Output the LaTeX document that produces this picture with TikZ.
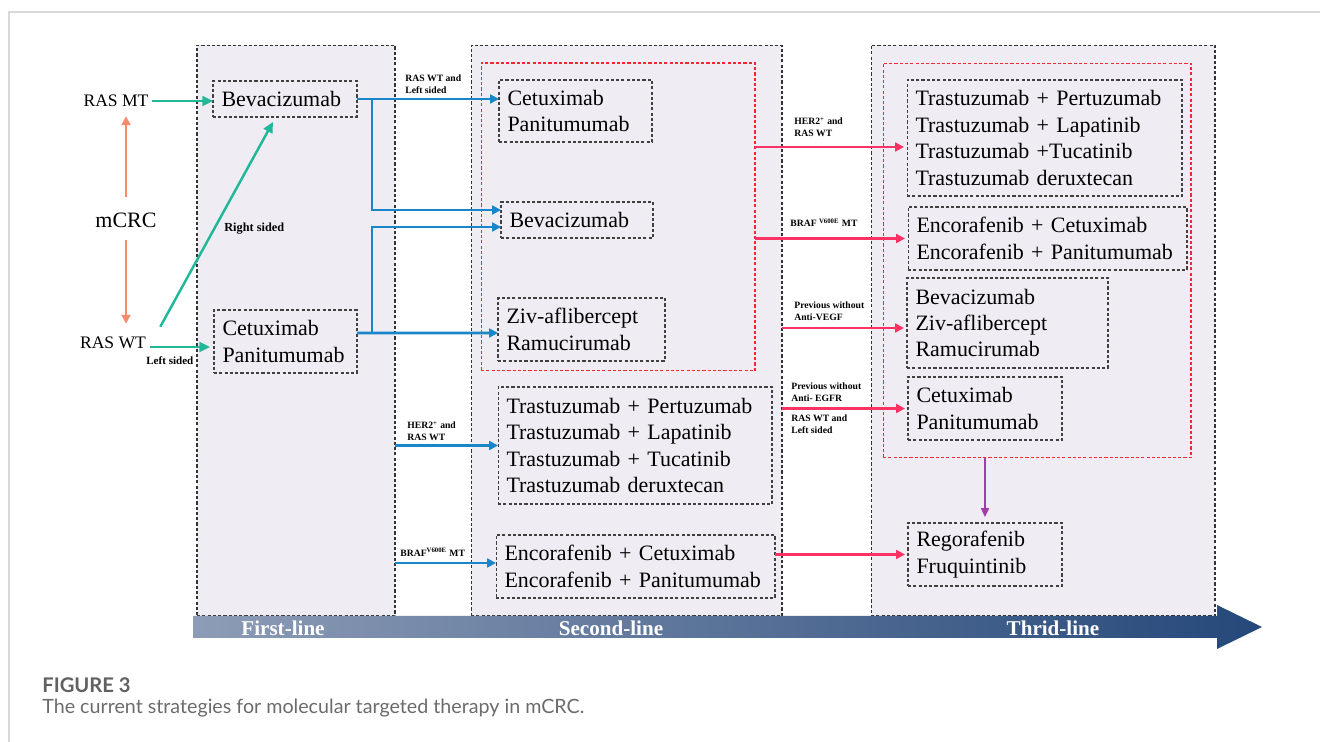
\documentclass[tikz,border=0pt]{standalone}
\usepackage{fontspec}
\setmainfont{Liberation Serif}
\newfontfamily\captionfont{Lato}
\usetikzlibrary{arrows.meta,calc}

\definecolor{crcLavender}{RGB}{239,236,244}
\definecolor{crcRedBox}{RGB}{240,40,50}
\definecolor{crcTeal}{RGB}{32,184,152}
\definecolor{crcBlue}{RGB}{24,134,200}
\definecolor{crcPink}{RGB}{252,50,100}
\definecolor{crcOrange}{RGB}{245,139,106}
\definecolor{crcPurple}{RGB}{160,62,165}
\definecolor{crcBandL}{RGB}{141,156,182}
\definecolor{crcBandM}{RGB}{112,134,168}
\definecolor{crcBandR}{RGB}{37,72,122}
\definecolor{crcFrame}{RGB}{216,216,216}

\begin{document}
\begin{tikzpicture}[
    x=0.02cm, y=-0.02cm,
    crcPanel/.style={draw=black!80, dash pattern=on 1.8pt off 1.2pt, line width=0.6pt, fill=crcLavender, inner sep=0pt, outer sep=0pt},
    crcGroup/.style={draw=crcRedBox, dash pattern=on 1.8pt off 1.2pt, line width=0.6pt, inner sep=0pt, outer sep=0pt},
    crcDrug/.style={draw=black!75, dash pattern=on 1.8pt off 1.2pt, line width=0.6pt, fill=crcLavender, align=left, inner xsep=0.17cm, inner ysep=0pt, outer sep=0pt, font=\fontsize{12.5}{15}\selectfont},
    crcTag/.style={anchor=west, align=left, inner sep=0pt, font=\bfseries\fontsize{5.5}{6.8}\selectfont},
    crcBandText/.style={text=white, inner sep=0pt, font=\bfseries\fontsize{12}{14}\selectfont},
    crcGreen/.style={draw=crcTeal, line width=1.4pt, -{Triangle[length=6pt,width=5.5pt]}},
    crcBlueArrow/.style={draw=crcBlue, line width=1.5pt, -{Triangle[length=5pt,width=5pt]}},
    crcPinkArrow/.style={draw=crcPink, line width=1.6pt, -{Triangle[length=5pt,width=5pt]}},
    crcOrangeArrow/.style={draw=crcOrange, line width=1.4pt, -{Triangle[length=5pt,width=5pt]}}
]
\useasboundingbox (0,0) rectangle (1320,742);
\draw[crcFrame, line width=0.8pt] (1320,12) -- (9,12) -- (9,742);

% the three lines of therapy
\node[crcPanel, minimum width=3.96cm, minimum height=11.42cm] (pan1) at (296,330.5) {};
\node[crcPanel, minimum width=6.22cm, minimum height=11.42cm] (pan2) at (626.5,330.5) {};
\node[crcPanel, minimum width=6.88cm, minimum height=11.42cm] (pan3) at (1043,330.5) {};
\node[crcGroup, minimum width=5.48cm, minimum height=6.16cm] (grp2) at (618,217) {};
\node[crcGroup, minimum width=6.16cm, minimum height=7.90cm] (grp3) at (1037,260.5) {};

% mCRC and RAS status
\node[inner sep=0pt, font=\fontsize{10}{12}\selectfont] (rasMT) at (116,101) {RAS MT};
\node[inner sep=0pt, font=\fontsize{12.5}{15}\selectfont] (mcrc) at (126,220) {mCRC};
\node[inner sep=0pt, font=\fontsize{10}{12}\selectfont] (rasWT) at (113,343) {RAS WT};
\draw[crcOrangeArrow, shorten <=0.31cm, shorten >=0.18cm] (mcrc.north) -- (mcrc.north |- rasMT.south);
\draw[crcOrangeArrow, shorten <=0.25cm, shorten >=0.26cm] (mcrc.south) -- (mcrc.south |- rasWT.north);

% first-line
\node[crcDrug, text width=2.54cm, minimum height=0.72cm] (b1Bev) at (285,99) {Bevacizumab};
\node[crcDrug, text width=2.52cm, minimum height=1.26cm] (b1Cet) at (285.5,341.5) {Cetuximab\\Panitumumab};

\draw[crcGreen, shorten <=0.06cm] (rasMT.east) -- (b1Bev.west |- rasMT.east);
\draw[crcGreen] ($(rasWT.east)+(4,4)$) -- ($(b1Cet.west |- rasWT.east)+(-4,4)$);
\draw[crcGreen] ($(rasWT.north east)+(14,-10)$) -- ($(b1Bev.south)+(-12,5)$);
\node[crcTag, font=\bfseries\fontsize{7}{8}\selectfont] (tagRight) at (224,229) {Right sided};
\node[crcTag, font=\bfseries\fontsize{6.3}{7}\selectfont] (tagLeft) at (146,361) {Left sided};

% second-line
\node[crcDrug, text width=2.72cm, minimum height=1.24cm] (b2Cet) at (575.5,111) {Cetuximab\\Panitumumab};
\node[crcDrug, text width=2.70cm, minimum height=0.72cm] (b2Bev) at (577,220) {Bevacizumab};
\node[crcDrug, text width=3.00cm, minimum height=1.26cm] (b2Ziv) at (581.5,329.5) {Ziv-aflibercept\\Ramucirumab};
\node[crcDrug, text width=5.14cm, minimum height=2.34cm] (b2Tras) at (635,445.5) {Trastuzumab + Pertuzumab\\Trastuzumab + Lapatinib\\Trastuzumab + Tucatinib\\Trastuzumab deruxtecan};
\node[crcDrug, text width=5.24cm, minimum height=1.26cm] (b2Enc) at (635.5,566.5) {Encorafenib + Cetuximab\\Encorafenib + Panitumumab};

\draw[crcBlueArrow] (b1Bev.east) -- (b2Cet.west |- b1Bev.east);
\draw[crcBlueArrow] ($(b1Bev.east)+(15,0)$) |- ($(b2Bev.west)+(0,-10)$);
\draw[crcBlueArrow] ($(b1Cet.east)+(15,-8.5)$) |- ($(b2Bev.west)+(0,7)$);
\draw[crcBlueArrow] ($(b1Cet.east)+(0,-8.5)$) -- ($(b2Ziv.west)+(0,3.5)$);
\draw[crcBlueArrow] (pan1.east |- b2Tras.west) -- (b2Tras.west);
\draw[crcBlueArrow] ($(pan1.east |- b2Enc.west)+(0,-3.5)$) -- ($(b2Enc.west)+(0,-3.5)$);
\node[crcTag] (tagRasLeft1) at (405,84) {RAS WT and\\Left sided};
\node[crcTag] (tagHer2a) at (407,431) {HER2\textsuperscript{+} and\\RAS WT};
\node[crcTag] (tagBraf2) at (400,552) {BRAF\textsuperscript{V600E} MT};

% third-line
\node[crcDrug, text width=5.16cm, minimum height=2.32cm] (b3Tras) at (1044.5,138) {Trastuzumab + Pertuzumab\\Trastuzumab + Lapatinib\\Trastuzumab +Tucatinib\\Trastuzumab deruxtecan};
\node[crcDrug, text width=5.24cm, minimum height=1.26cm] (b3Enc) at (1047.5,238.5) {Encorafenib + Cetuximab\\Encorafenib + Panitumumab};
\node[crcDrug, text width=3.68cm, minimum height=1.80cm] (b3Bev) at (1007.5,323) {Bevacizumab\\Ziv-aflibercept\\Ramucirumab};
\node[crcDrug, text width=2.74cm, minimum height=1.26cm] (b3Cet) at (985,408.5) {Cetuximab\\Panitumumab};
\node[crcDrug, text width=2.74cm, minimum height=1.26cm] (b3Reg) at (985,554.5) {Regorafenib\\Fruquintinib};

\draw[crcPinkArrow] ($(grp2.east |- b3Tras.west)+(0,9)$) -- ($(b3Tras.west)+(-3,9)$);
\draw[crcPinkArrow] (grp2.east |- b3Enc.west) -- ($(b3Enc.west)+(-3,0)$);
\draw[crcPinkArrow] ($(pan2.east |- b3Bev.west)+(0,5)$) -- ($(b3Bev.west)+(-3,5)$);
\draw[crcPinkArrow] (pan2.east |- b3Cet.west) -- ($(b3Cet.west)+(-3,0)$);
\draw[crcPinkArrow] (b2Enc.east |- b3Reg.west) -- ($(b3Reg.west)+(-3,0)$);
\draw[draw=crcPurple, line width=1.1pt, -{Triangle[length=5pt,width=4.5pt]}, shorten >=0.12cm] (grp3.south -| b3Reg.north) -- (b3Reg.north);
\node[crcTag] (tagHer2b) at (794,127) {HER2\textsuperscript{+} and\\RAS WT};
\node[crcTag] (tagBraf3) at (790,223) {BRAF \textsuperscript{V600E} MT};
\node[crcTag] (tagVegf) at (794,311) {Previous without\\Anti-VEGF};
\node[crcTag] (tagEgfr) at (791,392) {Previous without\\Anti- EGFR};
\node[crcTag] (tagRasLeft3) at (791,424.5) {RAS WT and\\Left sided};

% time axis
\shade[left color=crcBandL, middle color=crcBandM, right color=crcBandR] (193,616) -- (1217,616) -- (1217,605) -- (1262,627) -- (1217,649) -- (1217,638) -- (193,638) -- cycle;
\node[crcBandText] (first) at (283,628) {First-line};
\node[crcBandText] (second) at (611,628) {Second-line};
\node[crcBandText] (third) at (1053,628) {Thrid-line};

% caption
\node[anchor=base west, inner sep=0pt, text=black!62, font=\captionfont\bfseries\fontsize{11.5}{14}\selectfont] (figNo) at (42,693) {FIGURE 3};
\node[anchor=base west, inner sep=0pt, text=black!58, font=\captionfont\fontsize{11.2}{13}\selectfont] (figText) at (42,714) {The current strategies for molecular targeted therapy in mCRC.};
\end{tikzpicture}
\end{document}
